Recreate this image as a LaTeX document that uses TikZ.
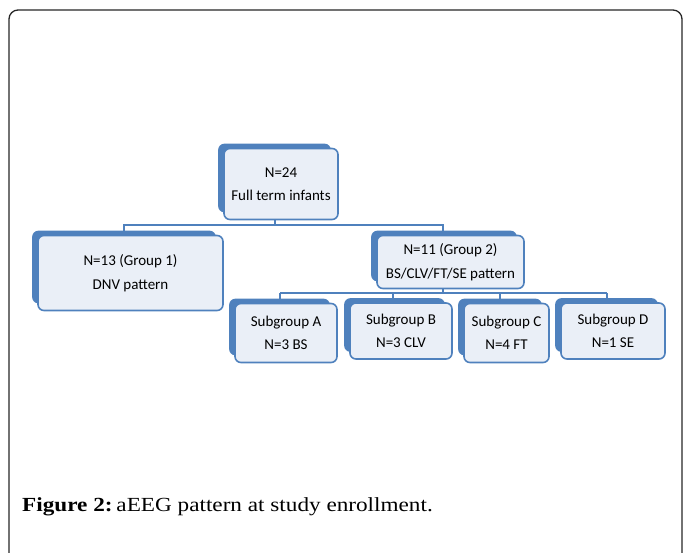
\documentclass[tikz,border=0pt]{standalone}
\usepackage{fontspec}
\setmainfont{Liberation Serif}
\newfontfamily\boxfont{Carlito}
\usetikzlibrary{backgrounds}
\definecolor{obl}{HTML}{4F81BD}
\definecolor{ofill}{HTML}{EAEFF7}
\tikzset{
  front/.style={draw=obl, line width=1.6pt, fill=ofill, rounded corners=6pt,
    align=center, inner sep=0pt, font=\boxfont\fontsize{15}{23.5}\selectfont},
  shadowbox/.style={fill=obl, rounded corners=6pt},
  conn/.style={draw=obl, line width=1.5pt},
  frame/.style={draw=black!85, line width=1.3pt, rounded corners=9pt}
}
\newcommand\boxshadow[1]{\path[shadowbox] ([xshift=-5pt,yshift=4pt]#1.north west) rectangle ([xshift=-8pt,yshift=8pt]#1.south east);}
\begin{document}
\begin{tikzpicture}[x=1pt,y=-1pt]
\path[use as bounding box] (0,0) rectangle (683,552);
\begin{scope}
  \clip (0,0) rectangle (683,552);
  \path[frame] (9,10) rectangle (682,620);
\end{scope}
% boxes
\node[front, minimum width=114pt, minimum height=71pt] (top) at (281,184) {N=24\\Full term infants};
\node[front, minimum width=185pt, minimum height=75pt] (g1) at (130.5,273) {N=13 (Group 1)\\DNV pattern};
\node[front, minimum width=147pt, minimum height=53pt] (g2) at (450.5,262) {N=11 (Group 2)\\BS/CLV/FT/SE pattern};
\node[front, minimum width=102pt, minimum height=59pt] (sa) at (286,333) {Subgroup A\\N=3 BS};
\node[front, minimum width=102pt, minimum height=56pt] (sb) at (401,331) {Subgroup B\\N=3 CLV};
\node[front, minimum width=85pt, minimum height=59pt] (sc) at (506.5,333) {Subgroup C\\N=4 FT};
\node[front, minimum width=104pt, minimum height=56pt] (sd) at (613,331) {Subgroup D\\N=1 SE};
% connector points
\coordinate (t1) at (275,225);
\coordinate (b1L) at (124,225);
\coordinate (b1R) at (443,225);
\coordinate (g2x) at (443,293);
\coordinate (b2A) at (280,293);
\coordinate (b2B) at (393,293);
\coordinate (b2C) at (500,293);
\coordinate (b2D) at (607,293);
\begin{scope}[on background layer]
  \draw[conn] (top.south -| t1) -- (t1);
  \draw[conn] (g1.north -| b1L) -- (b1L) -- (b1R) -- (g2.north -| b1R);
  \draw[conn] (g2.south -| g2x) -- (g2x);
  \draw[conn] (b2A) -- (b2D);
  \draw[conn] (b2A) -- (sa.north -| b2A);
  \draw[conn] (b2B) -- (sb.north -| b2B);
  \draw[conn] (b2C) -- (sc.north -| b2C);
  \draw[conn] (b2D) -- (sd.north -| b2D);
  \boxshadow{top}
  \boxshadow{g1}
  \boxshadow{g2}
  \boxshadow{sa}
  \boxshadow{sb}
  \boxshadow{sc}
  \boxshadow{sd}
\end{scope}
\node[anchor=base west, inner sep=0pt, font=\fontsize{20}{24}\selectfont] (cap) at (22,511) {\scalebox{1.16}[1]{\textbf{Figure 2:}\,aEEG pattern at study enrollment.}};
\end{tikzpicture}
\end{document}
